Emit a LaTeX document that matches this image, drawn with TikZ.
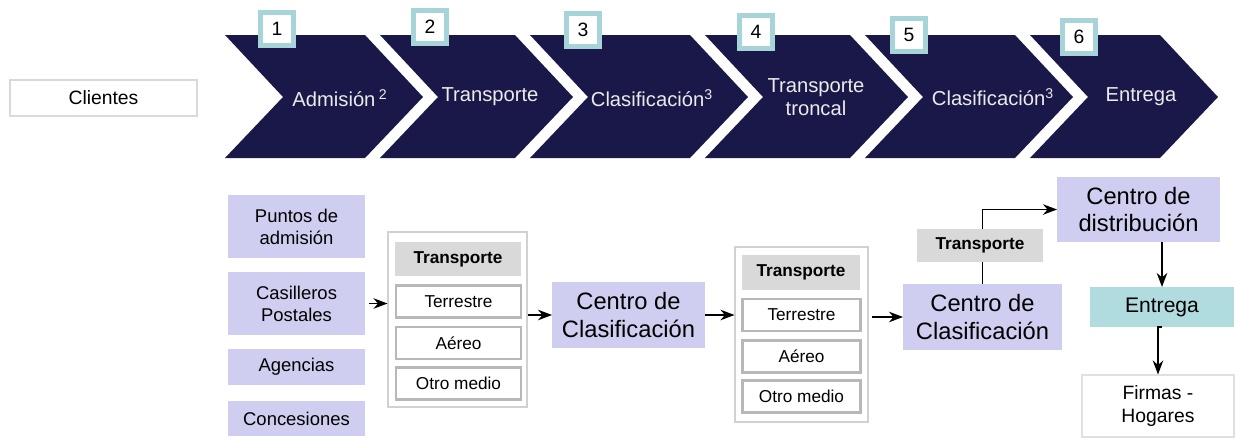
\documentclass[tikz,border=0pt]{standalone}
\usepackage{fontspec}
\setmainfont{Liberation Sans}
\usetikzlibrary{arrows.meta,positioning}
\definecolor{cnavy}{RGB}{26,24,72}
\definecolor{clav}{RGB}{208,206,240}
\definecolor{cgrayhd}{RGB}{217,217,217}
\definecolor{cteal}{RGB}{176,220,223}
\definecolor{cnum}{RGB}{166,212,216}

\begin{document}
\begin{tikzpicture}[x=0.02cm, y=-0.02cm,
    chev/.style={fill=cnavy},
    chevtext/.style={text=white!92!black, align=center,
                     font=\fontsize{11.5}{13}\selectfont},
    numbox/.style={draw=cnum, line width=2.6pt, fill=white, inner sep=0pt,
                   minimum size=0.66cm, font=\fontsize{11}{12}\selectfont},
    lavbox/.style={fill=clav, align=center, inner sep=0pt, outer sep=0pt,
                   font=\fontsize{10.5}{12.5}\selectfont},
    bigbox/.style={lavbox, font=\fontsize{13.5}{15.5}\selectfont},
    grpbox/.style={draw=black!18, line width=0.6pt, fill=white,
                   minimum width=#1, minimum height=3.5cm, inner sep=0pt},
    hdbox/.style={fill=cgrayhd, inner sep=0pt, outer sep=0pt,
                  font=\bfseries\fontsize{9.8}{11}\selectfont},
    modebox/.style={draw=black!28, line width=1.3pt, fill=white,
                    inner sep=0pt, outer sep=0pt,
                    minimum width=#1, minimum height=0.64cm,
                    font=\fontsize{9.8}{11}\selectfont},
    arr/.style={-{Stealth[length=8pt,width=6pt]}, line width=0.8pt}]
\useasboundingbox (0,0) rectangle (1235,437);
% Top: process chevrons
\node[draw=black!15, line width=0.6pt, minimum width=3.74cm, minimum height=0.72cm,
      font=\fontsize{11}{12}\selectfont] (cli) at (103.5,98) {Clientes};
\fill[chev] (225,35) -- (365,35) -- (423,97) -- (365,158) -- (225,158) -- (283,97) -- cycle;
\fill[chev] (380,35) -- (515,35) -- (573,97) -- (515,158) -- (380,158) -- (438,97) -- cycle;
\fill[chev] (530,35) -- (690,35) -- (748,97) -- (690,158) -- (530,158) -- (588,97) -- cycle;
\fill[chev] (705,35) -- (850,35) -- (908,97) -- (850,158) -- (705,158) -- (763,97) -- cycle;
\fill[chev] (865,35) -- (1015,35) -- (1073,97) -- (1015,158) -- (865,158) -- (923,97) -- cycle;
\fill[chev] (1030,35) -- (1160,35) -- (1218,97) -- (1160,158) -- (1030,158) -- (1088,97) -- cycle;
\node[chevtext] (p1) at (340,98) {Admisión\,\textsuperscript{2}};
\node[chevtext] (p2) at (490,97) {Transporte};
\node[chevtext] (p3) at (652,98) {Clasificación\textsuperscript{3}};
\node[chevtext] (p4) at (816,97) {Transporte\\troncal};
\node[chevtext] (p5) at (993,97) {Clasificación\textsuperscript{3}};
\node[chevtext] (p6) at (1141,97) {Entrega};
\node[numbox] (n1) at (277,29) {1};
\node[numbox] (n2) at (430,27) {2};
\node[numbox] (n3) at (583,30) {3};
\node[numbox] (n4) at (756,32) {4};
\node[numbox] (n5) at (909,35) {5};
\node[numbox] (n6) at (1079,37) {6};
% Bottom left: admission points
\node[lavbox, minimum width=2.74cm, minimum height=1.26cm] (pun) at (296.5,226.5) {Puntos de\\admisión};
\node[lavbox, minimum width=2.74cm, minimum height=1.26cm] (cas) at (296.5,303.5) {Casilleros\\Postales};
\node[lavbox, minimum width=2.74cm, minimum height=0.72cm] (age) at (296.5,367) {Agencias};
\node[lavbox, minimum width=2.74cm, minimum height=0.70cm] (con) at (296.5,418.5) {Concesiones};
% First transport group
\node[grpbox=2.78cm] (g1) at (457.5,319.5) {};
\node[hdbox, minimum width=2.52cm, minimum height=0.68cm] (g1h) at (458,259) {Transporte};
\node[modebox=2.5cm] (g1t) at (458.5,301.5) {Terrestre};
\node[modebox=2.5cm] (g1a) at (458.5,343) {Aéreo};
\node[modebox=2.5cm] (g1o) at (458.5,383.5) {Otro medio};
\node[bigbox, minimum width=3.06cm, minimum height=1.32cm] (cc1) at (628.5,315) {Centro de\\Clasificación};
% Second transport group
\node[grpbox=2.66cm] (g2) at (801.5,334.5) {};
\node[hdbox, minimum width=2.36cm, minimum height=0.7cm] (g2h) at (801,272.5) {Transporte};
\node[modebox=2.36cm] (g2t) at (801.5,315) {Terrestre};
\node[modebox=2.36cm] (g2a) at (801.5,356.5) {Aéreo};
\node[modebox=2.36cm] (g2o) at (801.5,396.5) {Otro medio};
\node[bigbox, minimum width=3.18cm, minimum height=1.32cm] (cc2) at (982.5,317) {Centro de\\Clasificación};
% Right: distribution and delivery
\node[bigbox, minimum width=3.26cm, minimum height=1.3cm] (cdist) at (1138.5,209.5) {Centro de\\distribución};
\node[lavbox, fill=cteal, minimum width=2.88cm, minimum height=0.8cm,
      font=\fontsize{12}{14}\selectfont] (ent) at (1162,307) {Entrega};
\node[draw=black!12, line width=0.6pt, minimum width=3.04cm, minimum height=1.24cm,
      align=center, font=\fontsize{11}{13.5}\selectfont] (fir) at (1158,406) {Firmas -\\Hogares};
% Connectors
\draw[arr, shorten <=2pt] (cas.east) -- (cas.east -| g1.west);
\draw[arr] (g1.east |- cc1.west) -- (cc1.west);
\draw[arr] (cc1.east) -- (cc1.east -| g2.west);
\draw[arr, shorten <=2pt] (cc2.west -| g2.east) -- (cc2.west);
\draw[arr] (cc2.north) |- (cdist.west);
\node[hdbox, minimum width=2.52cm, minimum height=0.66cm] (tr) at (980,245.5) {Transporte};
\draw[arr] (cdist.south -| ent.north) -- (ent.north);
\draw[arr] (ent.south) -- (ent.south -| fir.north) -- (fir.north);
\end{tikzpicture}
\end{document}
